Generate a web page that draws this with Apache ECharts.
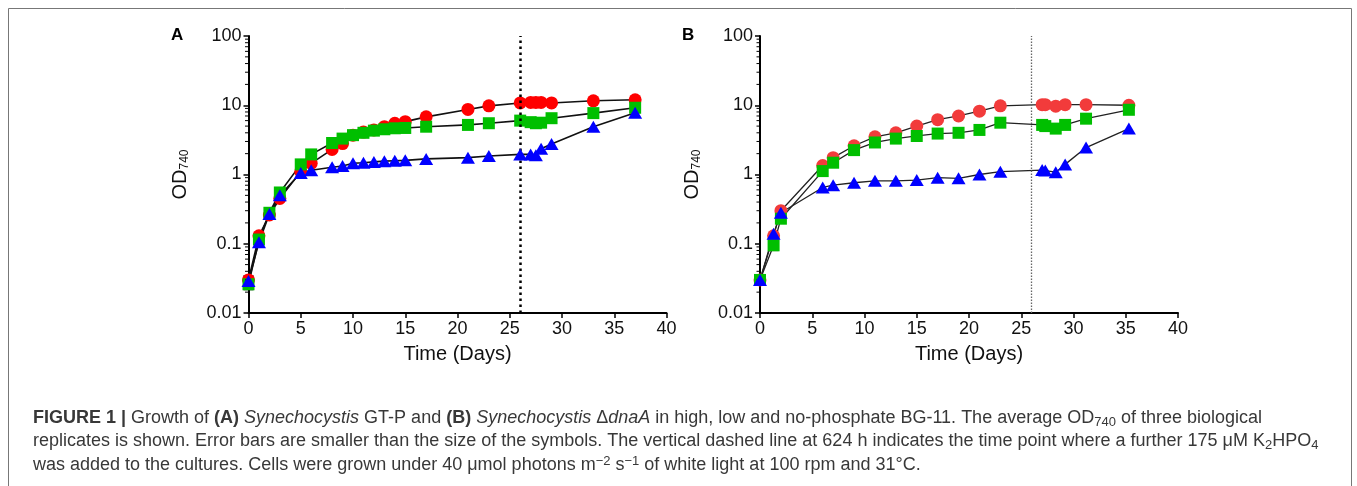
<!DOCTYPE html>
<html><head><meta charset="utf-8">
<script src="https://cdn.jsdelivr.net/npm/echarts@6/dist/echarts.min.js"></script>
<style>html,body{margin:0;padding:0;background:#fff}#c{width:1357px;height:486px}</style>
</head><body><div id="c"></div>
<script>
// ---- Panel A data (Synechocystis GT-P) ----
const daysA = [0,1,2,3,5,6,8,9,10,11,12,13,14,15,17,21,23,26,27,27.5,28,29,33,37];
const highA = [0.03,0.13,0.26,0.45,1.1,1.45,2.3,2.8,3.7,4.1,4.4,4.9,5.5,5.8,6.8,8.7,9.8,10.8,11.0,11.0,11.0,10.8,11.6,12.0];
const lowA  = [0.026,0.115,0.28,0.55,1.4,1.95,2.85,3.3,3.7,4.0,4.3,4.5,4.65,4.7,4.9,5.2,5.5,6.0,5.7,5.5,5.6,6.5,7.7,9.2];
const noA   = [0.029,0.105,0.27,0.5,1.05,1.15,1.27,1.33,1.45,1.48,1.52,1.56,1.58,1.6,1.68,1.75,1.85,1.95,1.95,1.9,2.35,2.75,4.9,7.8];
const errA  = [[0,0.022,0.034]];
// ---- Panel B data (Synechocystis ΔdnaA) ----
const daysB = [0,1.3,2,6,7,9,11,13,15,17,19,21,23,27,27.3,28.3,29.2,31.2,35.3];
const highB = [0.03,0.13,0.3,1.35,1.75,2.6,3.5,4.0,5.0,6.2,7.0,8.2,9.8,10.2,10.2,9.7,10.2,10.2,10.0];
const lowB  = [0.03,0.095,0.23,1.12,1.48,2.25,2.9,3.3,3.6,3.9,4.0,4.4,5.6,5.2,5.0,4.6,5.2,6.4,8.6];
const noB   = [0.03,0.14,0.28,0.65,0.7,0.76,0.81,0.81,0.83,0.9,0.88,1.0,1.1,1.16,1.14,1.08,1.4,2.45,4.6];
const errB  = [[1.3,0.081,0.12]];
// ---- axes ----
const xTicks = [0,5,10,15,20,25,30,35,40];
const yTickLabels = ['0.01','0.1','1','10','100'];
const minorDecades = [0.01,0.1,1,10];
const minorMult = [2,3,4,5,6,7,8,9];
const addDay = 26;

const FONT = 'Liberation Sans, Arial, sans-serif';
const CAPF = 'Liberation Sans, Arial, sans-serif';
const CAPC = '#383838';
const minorVals = [];
minorDecades.forEach(d => minorMult.forEach(m => minorVals.push([0, m * d])));

function pairs(xs, ys){ return xs.map((x,i)=>[x, ys[i]]); }

function xAxisCfg(gi){
  return {
    gridIndex: gi, type: 'value', min: xTicks[0], max: xTicks[xTicks.length-1], interval: 5,
    axisLine: {show:true, onZero:false, lineStyle:{color:'#000', width:2}},
    axisTick: {show:true, inside:false, length:5, lineStyle:{color:'#000', width:1.5}},
    axisLabel: {show:true, color:'#111', fontSize:18, fontFamily:FONT, margin:7},
    splitLine: {show:false},
    name: 'Time (Days)', nameLocation:'middle', nameGap:31,
    nameTextStyle: {color:'#111', fontSize:20, fontFamily:FONT}
  };
}
function yAxisCfg(gi){
  return {
    gridIndex: gi, type: 'log', logBase: 10, min: 0.01, max: 100,
    axisLine: {show:true, onZero:false, lineStyle:{color:'#000', width:2}},
    axisTick: {show:true, inside:false, length:5, lineStyle:{color:'#000', width:1.5}},
    axisLabel: {show:true, color:'#111', fontSize:18, fontFamily:FONT, margin:7,
      formatter: v => yTickLabels[Math.round(Math.log10(v)) + 2]},
    splitLine: {show:false},
    minorTick: {show:false},
    name: '{a|OD}{s|740}', nameLocation:'middle', nameRotate:90, nameGap:56,
    nameTextStyle: {color:'#111', fontFamily:FONT,
      rich: {a:{fontSize:20, lineHeight:24, fontFamily:FONT, color:'#111'},
             s:{fontSize:12, lineHeight:12, padding:[9,0,0,0], fontFamily:FONT, color:'#111'}}}
  };
}

function lineSeries(gi, xs, ys, color, width, ml){
  const s = {type:'line', xAxisIndex:gi, yAxisIndex:gi, data:pairs(xs,ys), showSymbol:false, symbol:'none',
    lineStyle:{color:color, width:width}, z:2, silent:true};
  if (ml) s.markLine = ml;
  return s;
}
function scatterSeries(gi, xs, ys, symbol, size, color, z){
  return {type:'scatter', xAxisIndex:gi, yAxisIndex:gi, data:pairs(xs,ys), symbol:symbol, symbolSize:size,
    itemStyle:{color:color, opacity:1}, z:z, silent:true};
}
function minorSeries(gi){
  return {type:'custom', xAxisIndex:gi, yAxisIndex:gi, data:minorVals, clip:false, z:5, silent:true,
    encode:{x:0,y:1},
    renderItem:(p, api)=>{ const c = api.coord([api.value(0), api.value(1)]);
      return {type:'line', shape:{x1:c[0]-3.5, y1:c[1], x2:c[0], y2:c[1]}, style:{stroke:'#000', lineWidth:1}}; }};
}
function errSeries(gi, data){
  return {type:'custom', xAxisIndex:gi, yAxisIndex:gi, data:data, clip:false, z:1, silent:true,
    encode:{x:0,y:[1,2]},
    renderItem:(p, api)=>{ const lo = api.coord([api.value(0), api.value(1)]);
      const hi = api.coord([api.value(0), api.value(2)]); const w = 5;
      const st = {stroke:'#000', lineWidth:2};
      return {type:'group', children:[
        {type:'line', shape:{x1:lo[0], y1:lo[1], x2:hi[0], y2:hi[1]}, style:st},
        {type:'line', shape:{x1:lo[0]-w, y1:lo[1], x2:lo[0]+w, y2:lo[1]}, style:st},
        {type:'line', shape:{x1:hi[0]-w, y1:hi[1], x2:hi[0]+w, y2:hi[1]}, style:st}]}; }};
}
const mlA = {silent:true, symbol:['none','none'], label:{show:false}, animation:false,
  lineStyle:{color:'#000', type:[2.5,3.5], width:2.5}, data:[{xAxis:addDay}]};
const mlB = {silent:true, symbol:['none','none'], label:{show:false}, animation:false,
  lineStyle:{color:'#666', type:[1.5,1.5], width:1.3}, data:[{xAxis:addDay}]};

const capRich = {
  n:{fontSize:18, lineHeight:22, fontFamily:CAPF, color:CAPC},
  b:{fontSize:18, lineHeight:22, fontFamily:CAPF, color:CAPC, fontWeight:'bold'},
  i:{fontSize:18, lineHeight:22, fontFamily:CAPF, color:CAPC, fontStyle:'italic'},
  s:{fontSize:13, lineHeight:12, fontFamily:CAPF, color:CAPC, padding:[8,0,0,0]},
  p:{fontSize:13, lineHeight:12, fontFamily:CAPF, color:CAPC, padding:[0,0,8,0]}
};
const cap1 = '{b|FIGURE 1 |}{n| Growth of }{b|(A)}{i| Synechocystis}{n| GT-P and }{b|(B)}{i| Synechocystis }{n|Δ}{i|dnaA}{n| in high, low and no-phosphate BG-11. The average OD}{s|740}{n| of three biological}';
const cap2 = '{n|replicates is shown. Error bars are smaller than the size of the symbols. The vertical dashed line at 624 h indicates the time point where a further 175 μM K}{s|2}{n|HPO}{s|4}';
const cap3 = '{n|was added to the cultures. Cells were grown under 40 μmol photons m}{p|−2}{n| s}{p|−1}{n| of white light at 100 rpm and 31°C.}';
function capText(t, y){
  return {type:'text', x:33, y:y, silent:true,
    style:{text:t, rich:capRich, fontFamily:CAPF, fontSize:18, fill:CAPC, align:'left', verticalAlign:'middle'}};
}

const chart = echarts.init(document.getElementById('c'), null, {renderer:'canvas'});
chart.setOption({
  animation:false,
  backgroundColor:'#fff',
  grid:[
    {left:248.5, top:36, width:418, height:277, containLabel:false, outerBoundsMode:'none'},
    {left:760, top:36, width:418, height:277, containLabel:false, outerBoundsMode:'none'}
  ],
  xAxis:[xAxisCfg(0), xAxisCfg(1)],
  yAxis:[yAxisCfg(0), yAxisCfg(1)],
  series:[
    minorSeries(0), minorSeries(1),
    errSeries(0, errA), errSeries(1, errB),
    lineSeries(0, daysA, highA, '#111', 1.6, mlA),
    lineSeries(0, daysA, lowA, '#111', 1.6),
    lineSeries(0, daysA, noA, '#111', 1.6),
    lineSeries(1, daysB, highB, '#222', 1.3, mlB),
    lineSeries(1, daysB, lowB, '#222', 1.3),
    lineSeries(1, daysB, noB, '#222', 1.3),
    scatterSeries(0, daysA, highA, 'circle', 13, '#ff0000', 3),
    scatterSeries(0, daysA, lowA, 'rect', 12, '#00bf00', 4),
    scatterSeries(0, daysA, noA, 'triangle', [14,12], '#0000ff', 5),
    scatterSeries(1, daysB, highB, 'circle', 13, '#f23b3b', 3),
    scatterSeries(1, daysB, lowB, 'rect', 12, '#00bf00', 4),
    scatterSeries(1, daysB, noB, 'triangle', [14,12], '#0000ff', 5)
  ],
  graphic:[
    {type:'rect', shape:{x:8.5, y:8.5, width:1343, height:490}, style:{fill:'none', stroke:'#777', lineWidth:1}, silent:true},
    {type:'text', left:171, top:27, style:{text:'A', fontSize:17, fontWeight:'bold', fontFamily:FONT, fill:'#000'}},
    {type:'text', left:682, top:27, style:{text:'B', fontSize:17, fontWeight:'bold', fontFamily:FONT, fill:'#000'}},
    capText(cap1, 418),
    capText(cap2, 441.5),
    capText(cap3, 465)
  ]
});
</script></body></html>
